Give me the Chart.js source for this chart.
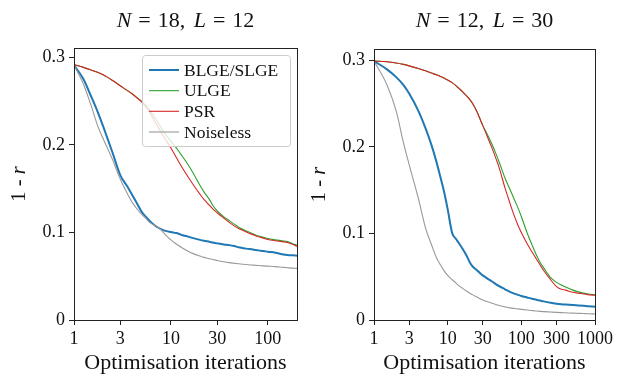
<!DOCTYPE html>
<html><head><meta charset="utf-8">
<script src="https://cdn.jsdelivr.net/npm/chart.js@4.4.1/dist/chart.umd.min.js"></script>
<style>
html,body{margin:0;padding:0;background:#fff;}
#wrap{position:relative;width:622px;height:376px;overflow:hidden;}
.c{position:absolute;top:0;width:311px;height:376px;}
</style></head><body>
<div id="wrap">
<div class="c" style="left:0"><canvas id="c1" width="311" height="376"></canvas></div>
<div class="c" style="left:311px"><canvas id="c2" width="311" height="376"></canvas></div>
</div>
<script>
// ---------- data ----------
const seriesNames = ['BLGE/SLGE', 'ULGE', 'PSR', 'Noiseless'];

// Left panel: N = 18, L = 12
const leftIters = [1,1.25,1.5,1.75,2,2.5,3,3.5,4,4.5,5,5.5,6,7,8,9,10,11,12,13,15,17,20,22,25,27,30,35,40,45,50,60,70,80,90,100,120,140,160,180,200];
const leftBLGE  = [0.291,0.2752,0.2555,0.238,0.221,0.191,0.1655,0.1535,0.1425,0.1325,0.1235,0.118,0.1135,0.107,0.1035,0.1015,0.1005,0.0995,0.0985,0.097,0.0952,0.0935,0.0915,0.0905,0.0893,0.0885,0.0875,0.0862,0.0855,0.0845,0.083,0.0815,0.0805,0.0795,0.0788,0.078,0.0768,0.0752,0.0742,0.0738,0.0735];
const leftULGE  = [0.2915,0.2885,0.2855,0.2828,0.280,0.2735,0.2675,0.2625,0.258,0.2535,0.2495,0.245,0.240,0.2295,0.2185,0.2105,0.2040,0.1985,0.193,0.1875,0.1775,0.1675,0.1535,0.146,0.1375,0.131,0.1245,0.118,0.1135,0.1095,0.106,0.1015,0.0985,0.096,0.0945,0.093,0.0915,0.0905,0.0895,0.087,0.0856];
const leftPSR   = [0.2915,0.2885,0.2855,0.2828,0.280,0.2735,0.2675,0.2625,0.258,0.2535,0.249,0.2435,0.2375,0.2245,0.2135,0.2045,0.1965,0.1885,0.181,0.1745,0.1635,0.1545,0.1435,0.1375,0.131,0.127,0.1225,0.1165,0.1115,0.1075,0.1045,0.1005,0.0975,0.095,0.0935,0.092,0.0905,0.0895,0.0885,0.0865,0.084];
const leftNoise = [0.291,0.2695,0.245,0.222,0.207,0.183,0.161,0.1455,0.134,0.1265,0.1205,0.116,0.1115,0.1075,0.1025,0.096,0.0915,0.088,0.085,0.0825,0.0785,0.0758,0.073,0.0715,0.070,0.069,0.068,0.0665,0.0655,0.0648,0.0642,0.0633,0.0627,0.0622,0.0618,0.0615,0.061,0.0603,0.0597,0.0592,0.059];

// Right panel: N = 12, L = 30
const rightIters = [1,1.5,2,2.5,3,4,5,6,7,8,9,10,11.5,13,14,16,18,20,22,25,28,30,35,40,45,50,60,70,80,90,100,120,140,160,180,200,250,300,350,400,500,600,700,800,1000];
const rightBLGE  = [0.299,0.2895,0.2805,0.2715,0.2615,0.2415,0.2215,0.2025,0.1835,0.1645,0.147,0.128,0.1005,0.0935,0.0895,0.082,0.0745,0.0665,0.0615,0.0575,0.0535,0.0515,0.0475,0.0445,0.0415,0.039,0.0355,0.0325,0.0305,0.029,0.0278,0.026,0.0245,0.0235,0.0225,0.0215,0.0198,0.0188,0.0182,0.0178,0.0172,0.0168,0.0164,0.016,0.0152];
const rightULGE  = [0.299,0.2982,0.2968,0.2952,0.2935,0.2905,0.2878,0.2852,0.2832,0.2812,0.2792,0.2772,0.2742,0.2705,0.268,0.2635,0.259,0.2545,0.2495,0.2405,0.2305,0.2245,0.2135,0.203,0.1925,0.1825,0.164,0.151,0.1395,0.1295,0.1195,0.1005,0.0865,0.075,0.0665,0.0605,0.049,0.0435,0.0405,0.038,0.0345,0.0325,0.031,0.030,0.0292];
const rightPSR   = [0.299,0.2982,0.2968,0.2952,0.2935,0.2905,0.2878,0.2852,0.2832,0.2812,0.2792,0.2772,0.2742,0.2705,0.268,0.2635,0.259,0.2545,0.2495,0.2405,0.2305,0.2245,0.2105,0.1985,0.1870,0.176,0.1525,0.135,0.1205,0.1095,0.101,0.088,0.0785,0.0705,0.0635,0.0575,0.0465,0.0385,0.0355,0.0345,0.032,0.031,0.030,0.0293,0.0285];
const rightNoise = [0.299,0.2715,0.2415,0.2055,0.1795,0.1405,0.1065,0.0875,0.0725,0.0635,0.0565,0.0515,0.0465,0.0425,0.040,0.0365,0.0335,0.031,0.029,0.0265,0.0243,0.0232,0.021,0.0193,0.018,0.0168,0.0152,0.014,0.0133,0.0128,0.0123,0.0115,0.0109,0.0104,0.010,0.0097,0.0092,0.0088,0.0085,0.0083,0.0079,0.0077,0.0075,0.0073,0.0070];

const leftXTicks  = [1,3,10,30,100];
const rightXTicks = [1,3,10,30,100,300,1000];
const yTicks = [0,0.1,0.2,0.3];

// ---------- styling ----------
const FONT = "'Liberation Serif','DejaVu Serif',serif";
const COLORS = ['#1f77b4','#2ca02c','#d62728','#999999'];
const WIDTHS = [2,1.1,1.1,1.1];
const ORDERS = [4,3,2,1];

function pts(xs, ys){ return xs.map((x,i)=>({x:x, y:ys[i]})); }

function makeDatasets(xs, list){
  return list.map((ys,k)=>({
    label: seriesNames[k],
    data: pts(xs, ys),
    borderColor: COLORS[k],
    backgroundColor: COLORS[k],
    borderWidth: WIDTHS[k],
    pointRadius: 0,
    tension: 0.2,
    cubicInterpolationMode: 'monotone',
    order: ORDERS[k],
    fill: false
  }));
}

const framePlugin = {
  id: 'frame',
  afterDatasetsDraw(chart){
    const a = chart.chartArea, ctx = chart.ctx;
    ctx.save();
    ctx.strokeStyle = '#222';
    ctx.lineWidth = 1;
    ctx.strokeRect(Math.round(a.left)+0.5, Math.round(a.top)+0.5, Math.round(a.right-a.left), Math.round(a.bottom-a.top));
    ctx.restore();
  }
};

// parts: {t: text, i: italic, g: gap in em before}
function drawMixed(ctx, parts, cx, y, size){
  let total = 0;
  const widths = parts.map(p=>{ ctx.font = (p.i?'italic ':'') + size + 'px ' + FONT; const w = ctx.measureText(p.t).width + (p.g||0)*size; total += w; return w; });
  let x = cx - total/2;
  parts.forEach((p,k)=>{ ctx.font = (p.i?'italic ':'') + size + 'px ' + FONT; ctx.fillText(p.t, x + (p.g||0)*size, y); x += widths[k]; });
}

function titleParts(a, b){
  return [{t:'N',i:true},{t:'=',g:0.32},{t:a+',',g:0.32},{t:'L',i:true,g:0.38},{t:'=',g:0.32},{t:b,g:0.32}];
}

function textPlugin(parts, ylabX){
  return {
    id: 'texts',
    afterDraw(chart){
      const a = chart.chartArea, ctx = chart.ctx;
      ctx.save();
      ctx.fillStyle = '#111';
      ctx.textBaseline = 'alphabetic';
      ctx.textAlign = 'left';
      drawMixed(ctx, parts, (a.left+a.right)/2, 27, 22);
      ctx.translate(ylabX, (a.top+a.bottom)/2);
      ctx.rotate(-Math.PI/2);
      ctx.textBaseline = 'middle';
      drawMixed(ctx, [{t:'1 - '},{t:'r',i:true}], 0, 0, 20.5);
      ctx.restore();
    }
  };
}

const legendPlugin = {
  id: 'innerLegend',
  afterDraw(chart){
    const ctx = chart.ctx;
    const x0 = 142.5, y0 = 55.5, w = 148, h = 91;
    ctx.save();
    ctx.beginPath();
    if (ctx.roundRect) ctx.roundRect(x0, y0, w, h, 3); else ctx.rect(x0, y0, w, h);
    ctx.fillStyle = 'rgba(255,255,255,0.8)';
    ctx.fill();
    ctx.strokeStyle = '#cccccc';
    ctx.lineWidth = 1;
    ctx.stroke();
    const ys = [70, 90.7, 111.3, 132];
    chart.data.datasets.forEach((ds,k)=>{
      ctx.beginPath();
      ctx.moveTo(149, ys[k]); ctx.lineTo(179, ys[k]);
      ctx.strokeStyle = ds.borderColor; ctx.lineWidth = ds.borderWidth;
      ctx.stroke();
      ctx.fillStyle = '#111';
      ctx.font = '17.5px ' + FONT;
      ctx.textBaseline = 'middle';
      ctx.textAlign = 'left';
      ctx.fillText(ds.label, 184, ys[k]+1);
    });
    ctx.restore();
  }
};

function makeChart(id, xs, series, xmax, ymax, xTicks, yAxisW, pad, parts, ylabX, extraPlugins){
  return new Chart(document.getElementById(id), {
    type: 'line',
    data: { datasets: makeDatasets(xs, series) },
    options: {
      responsive: false,
      animation: false,
      devicePixelRatio: 1,
      layout: { padding: pad },
      plugins: { legend: {display:false}, tooltip: {enabled:false}, title: {display:false} },
      scales: {
        x: {
          type: 'logarithmic', min: 1, max: xmax,
          grid: { display: true, drawOnChartArea: false, drawTicks: true, tickLength: 5, color: '#222' },
          border: { display: false },
          ticks: { autoSkip: false, maxRotation: 0, minRotation: 0, padding: 3, color: '#111',
                   font: { family: FONT, size: 18 }, callback: (v)=>String(v) },
          title: { display: true, text: 'Optimisation iterations', color: '#111', font: { family: FONT, size: 22 }, padding: {top: 0, bottom: 0} },
          afterBuildTicks: (s)=>{ s.ticks = xTicks.map(v=>({value:v})); },
          afterFit: (s)=>{ s.height = 56; s.paddingLeft = 0; s.paddingRight = 0; }
        },
        y: {
          type: 'linear', min: 0, max: ymax,
          grid: { display: true, drawOnChartArea: false, drawTicks: true, tickLength: 5, color: '#222' },
          border: { display: false },
          ticks: { padding: 4, color: '#111', font: { family: FONT, size: 18 },
                   callback: (v)=> v===0 ? '0' : v.toFixed(1) },
          afterBuildTicks: (s)=>{ s.ticks = yTicks.map(v=>({value:v})); },
          afterFit: (s)=>{ s.width = yAxisW; s.paddingTop = 0; s.paddingBottom = 0; }
        }
      }
    },
    plugins: [framePlugin, textPlugin(parts, ylabX)].concat(extraPlugins)
  });
}

makeChart('c1', leftIters, [leftBLGE, leftULGE, leftPSR, leftNoise], 200, 0.3106, leftXTicks, 74,
  {top:48, right:14, bottom:0, left:0}, titleParts('18','12'), 20, [legendPlugin]);

makeChart('c2', rightIters, [rightBLGE, rightULGE, rightPSR, rightNoise], 1000, 0.313, rightXTicks, 63,
  {top:49, right:27, bottom:0, left:0}, titleParts('12','30'), 9, []);
</script>
</body></html>
